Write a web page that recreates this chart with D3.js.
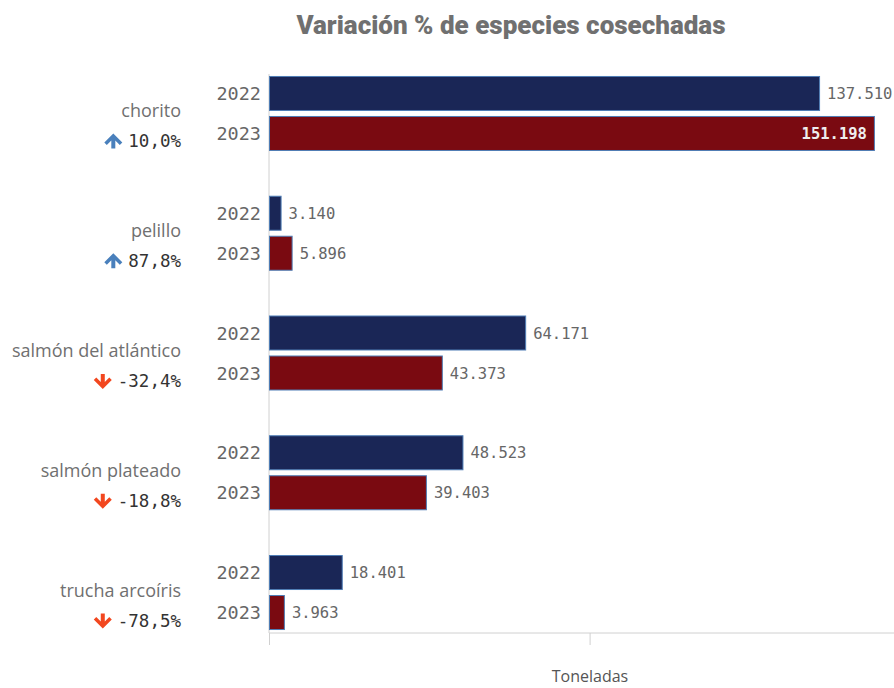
<!DOCTYPE html>
<html><head><meta charset="utf-8">
<script src="https://cdn.jsdelivr.net/npm/d3@7/dist/d3.min.js"></script>
<style>body{margin:0;background:#fff}</style>
</head><body>
<svg id="c" width="894" height="688"></svg>
<script>
const categories = ["chorito","pelillo","salmón del atlántico","salmón plateado","trucha arcoíris"];
const years = ["2022","2023"];
const values2022 = [137510, 3140, 64171, 48523, 18401];
const values2023 = [151198, 5896, 43373, 39403, 3963];
const changeLabels = ["10,0%","87,8%","-32,4%","-18,8%","-78,5%"];
const xTicks = [0, 80000];
const titleText = "Variación % de especies cosechadas";
const axisTitle = "Toneladas";

const svg = d3.select("#c");
const fmt = v => d3.format(",")(v).replace(/,/g, ".");

const x = d3.scaleLinear().domain([0, 155960]).range([269, 894]);
const y = d3.scaleBand().domain(categories).range([53.6, 652.4]);
const yi = d3.scaleBand().domain(years).range([-37.5, 37.5]).paddingInner(0.125);
const colors = {"2022": "#1a2656", "2023": "#7a0a11"};
const axisY = 633;

// title
svg.append("text").attr("x", 511).attr("y", 34).attr("text-anchor", "middle")
  .attr("font-family", "Roboto").attr("font-weight", 900).attr("font-size", 26)
  .attr("fill", "#707070").text(titleText);

// axes lines
svg.append("line").attr("x1", x(0)).attr("x2", x(0)).attr("y1", 74).attr("y2", axisY)
  .attr("stroke", "#d0d0d0");
const xAxis = d3.axisBottom(x).tickValues(xTicks).tickSize(12).tickFormat("");
const gx = svg.append("g").attr("transform", `translate(0,${axisY})`).call(xAxis);
gx.select(".domain").attr("stroke", "#d0d0d0").attr("d", `M${x(0)},0H894`);
gx.selectAll(".tick line").attr("stroke", "#d0d0d0");

svg.append("text").attr("x", 590).attr("y", 682).attr("text-anchor", "middle")
  .attr("font-family", "Open Sans").attr("font-size", 16).attr("fill", "#555")
  .text(axisTitle);

const rows = [];
categories.forEach((c, i) => {
  rows.push({cat: c, year: "2022", v: values2022[i]});
  rows.push({cat: c, year: "2023", v: values2023[i]});
});

const cy = c => y(c) + y.bandwidth() / 2;

// bars
svg.selectAll("rect.bar").data(rows).join("rect").attr("class", "bar")
  .attr("x", x(0) + 0.5)
  .attr("y", d => cy(d.cat) + yi(d.year) + 0.5)
  .attr("width", d => x(d.v) - x(0) - 1)
  .attr("height", yi.bandwidth() - 1)
  .attr("fill", d => colors[d.year])
  .attr("stroke", "#4f7db5").attr("stroke-width", 1);

// year labels
svg.selectAll("text.yr").data(rows).join("text").attr("class", "yr")
  .attr("x", 261).attr("y", d => cy(d.cat) + yi(d.year) + yi.bandwidth() / 2)
  .attr("dy", "0.36em").attr("text-anchor", "end")
  .attr("font-family", "DejaVu Sans Mono").attr("font-size", 18.5).attr("fill", "#666")
  .text(d => d.year);

// value labels
const maxV = d3.max(rows, d => d.v);
svg.selectAll("text.val").data(rows).join("text").attr("class", "val")
  .attr("x", d => d.v === maxV ? x(d.v) - 8 : x(d.v) + 7)
  .attr("y", d => cy(d.cat) + yi(d.year) + yi.bandwidth() / 2)
  .attr("dy", "0.36em").attr("text-anchor", d => d.v === maxV ? "end" : "start")
  .attr("font-family", "DejaVu Sans Mono").attr("font-size", 15.5)
  .attr("font-weight", d => d.v === maxV ? "bold" : "normal")
  .attr("fill", d => d.v === maxV ? "#eeeeee" : "#666")
  .text(d => fmt(d.v));

// category labels
svg.selectAll("text.cat").data(categories).join("text").attr("class", "cat")
  .attr("x", 181).attr("y", c => cy(c) + 4).attr("text-anchor", "end")
  .attr("font-family", "Open Sans").attr("font-size", 18).attr("fill", "#707070")
  .text(c => c);

// change labels with arrows
const gch = svg.selectAll("g.chg").data(categories).join("g").attr("class", "chg")
  .attr("transform", c => `translate(0,${cy(c) + 34})`);
gch.append("text").attr("x", 181).attr("text-anchor", "end")
  .attr("font-family", "DejaVu Sans Mono").attr("font-size", 17.5).attr("fill", "#333")
  .text((c, i) => changeLabels[i]);
gch.each(function(c, i) {
  const g = d3.select(this);
  const w = g.select("text").node().getComputedTextLength();
  const up = !changeLabels[i].startsWith("-");
  const cx = 181 - w - 15;
  const cyy = -6;
  const s = up ? -1 : 1;
  const path = `M${cx-2},${cyy - s*7} L${cx+2},${cyy - s*7} L${cx+2},${cyy + s*1} L${cx+6.5},${cyy - s*3.5} L${cx+9},${cyy - s*1} L${cx},${cyy + s*8} L${cx-9},${cyy - s*1} L${cx-6.5},${cyy - s*3.5} L${cx-2},${cyy + s*1} Z`;
  g.append("path").attr("d", path).attr("fill", up ? "#4a80bc" : "#f2471f");
});
</script>
</body></html>
